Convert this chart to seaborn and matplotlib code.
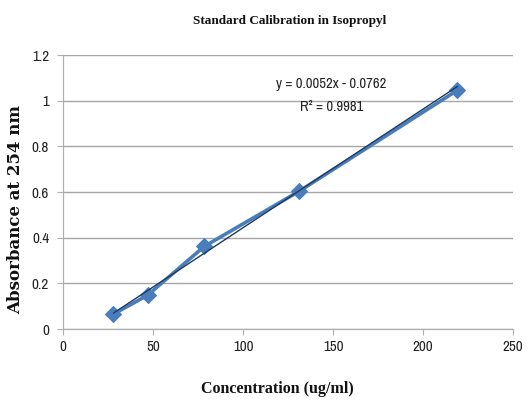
import numpy as np
import pandas as pd
import matplotlib
matplotlib.use("Agg")
import matplotlib.pyplot as plt
from matplotlib import font_manager
import seaborn as sns

# Calibration standards
concentration = [28, 47, 78.5, 131, 219]
absorbance = [0.065, 0.148, 0.362, 0.603, 1.046]

# Linear trendline
slope = 0.0052
intercept = -0.0762
r_squared = 0.9981

x_ticks = [0, 50, 100, 150, 200, 250]
y_ticks = [0, 0.2, 0.4, 0.6, 0.8, 1.0, 1.2]
y_tick_labels = ["0", "0.2", "0.4", "0.6", "0.8", "1", "1.2"]

sns.set_theme(style="white")

# Prefer a narrow sans face for tick labels if one is installed
names = sorted({f.name for f in font_manager.fontManager.ttflist})
narrow = [n for n in names if ("Narrow" in n or "Condensed" in n) and "Serif" not in n]
sans = narrow[:1] + ["Liberation Sans", "DejaVu Sans"]
plt.rcParams["font.family"] = sans
tick_size = 10.8 if narrow else 9.5

fig = plt.figure(figsize=(5.29, 4.03), dpi=100)
ax = fig.add_axes([0.119, 0.1836, 0.851, 0.6795])

df = pd.DataFrame({"conc": concentration, "abs": absorbance})

# Trendline drawn from the fitted equation
fit_x = np.array([min(concentration), max(concentration)])
fit_df = pd.DataFrame({"conc": fit_x, "abs": slope * fit_x + intercept})
sns.lineplot(data=fit_df, x="conc", y="abs", ax=ax, color="#1f3a5c",
             linewidth=1.0, zorder=4)

sns.lineplot(data=df, x="conc", y="abs", ax=ax, color="#4a7ebb",
             linewidth=2.6, marker="D", markersize=8,
             markeredgecolor="#4a7ebb", zorder=3)

ax.set_xlim(0, 250)
ax.set_ylim(0, 1.2)
ax.set_xticks(x_ticks)
ax.set_xticklabels([str(t) for t in x_ticks])
ax.set_yticks(y_ticks)
ax.set_yticklabels(y_tick_labels)
ax.tick_params(axis="both", labelsize=tick_size, colors="#b0b0b0", length=4,
               width=0.8, direction="out", bottom=True, left=True)
ax.tick_params(axis="x", pad=4, labelcolor="#222222")
ax.tick_params(axis="y", pad=6, labelcolor="#222222")

ax.yaxis.grid(True, color="#a6a6a6", linewidth=1.0)
ax.set_axisbelow(True)
for side in ["top", "right"]:
    ax.spines[side].set_visible(False)
for side in ["left", "bottom"]:
    ax.spines[side].set_color("#b0b0b0")
    ax.spines[side].set_linewidth(0.9)

serif = ["Liberation Serif", "DejaVu Serif"]
ax.set_xlabel("Concentration (ug/ml)", family=serif, fontweight="bold",
              fontsize=11.5, color="#111111")
ax.xaxis.set_label_coords(0.476, -0.19)
ax.set_ylabel("Absorbance at 254 nm", family=["DejaVu Serif"], fontweight="bold",
              fontsize=12, color="#111111")
ax.yaxis.set_label_coords(-0.086, 0.436)
fig.text(0.548, 0.948, "Standard Calibration in Isopropyl", family=serif,
         fontweight="bold", fontsize=9.5, ha="center", va="center",
         color="#111111")

eq_size = 10.5 if narrow else 9.5
ax.text(0.596, 0.894, f"y = {slope}x - {abs(intercept)}", transform=ax.transAxes,
        fontsize=eq_size, color="#222222", ha="center", va="center")
ax.text(0.596, 0.81, f"R² = {r_squared}", transform=ax.transAxes,
        fontsize=eq_size, color="#222222", ha="center", va="center")

fig.savefig("out.png", dpi=100, facecolor="white")
